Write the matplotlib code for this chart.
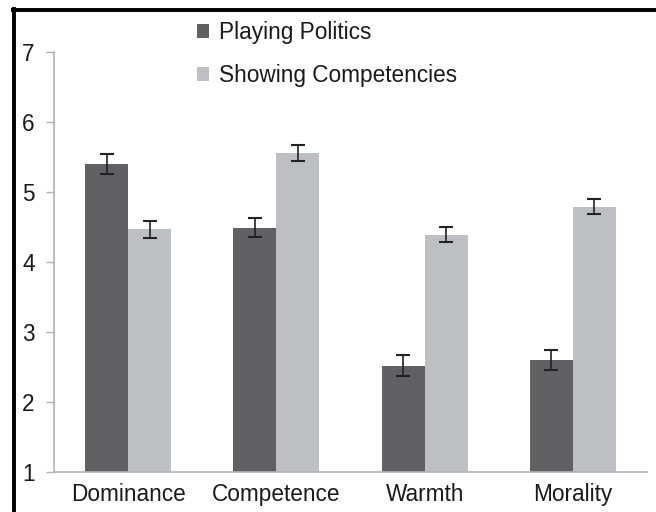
import numpy as np
import matplotlib.pyplot as plt
from matplotlib.lines import Line2D

plt.rcParams['font.family'] = ['Liberation Sans', 'DejaVu Sans']

categories = ['Dominance', 'Competence', 'Warmth', 'Morality']
politics = [5.40, 4.49, 2.52, 2.60]
politics_err = [0.14, 0.14, 0.15, 0.14]
competencies = [4.47, 5.56, 4.39, 4.79]
competencies_err = [0.12, 0.11, 0.11, 0.11]
series_names = ['Playing Politics', 'Showing Competencies']
yticks = [1, 2, 3, 4, 5, 6, 7]

DARK = '#616163'
LIGHT = '#bebfc3'
TEXT = '#1a1a1a'
AXIS = '#b3b3b3'
FS = 16.3


def main():
    fig = plt.figure(figsize=(6.56, 5.12), dpi=100)
    ax = fig.add_axes([54 / 656, 40 / 512, 593 / 656, 420 / 512])

    x = np.arange(len(categories))
    w = 0.29
    base = 1
    ax.bar(x - w / 2, np.array(politics) - base, w, bottom=base, color=DARK,
           label=series_names[0])
    ax.bar(x + w / 2, np.array(competencies) - base, w, bottom=base, color=LIGHT,
           label=series_names[1])
    ax.errorbar(x - w / 2, politics, yerr=politics_err, fmt='none',
                ecolor='#222222', elinewidth=1.2, capsize=5, capthick=1.5)
    ax.errorbar(x + w / 2, competencies, yerr=competencies_err, fmt='none',
                ecolor='#222222', elinewidth=1.2, capsize=5, capthick=1.5)

    ax.set_xlim(-0.5, len(categories) - 0.5)
    ax.set_ylim(1, 7)
    ax.set_yticks(yticks)
    ax.set_xticks(x)
    ax.set_xticklabels(categories)

    for side in ['top', 'right']:
        ax.spines[side].set_visible(False)
    for side in ['left', 'bottom']:
        ax.spines[side].set_color(AXIS)
        ax.spines[side].set_linewidth(1.2)
    ax.tick_params(axis='y', length=6, width=1, color=AXIS, pad=8,
                   labelsize=FS, labelcolor=TEXT)
    ax.tick_params(axis='x', length=0, pad=8, labelsize=FS, labelcolor=TEXT)

    fig.legend(loc='upper left', bbox_to_anchor=(197 / 656, 1 - 21 / 512),
               frameon=False, borderpad=0, borderaxespad=0,
               handlelength=0.55, handleheight=0.55, handletextpad=0.4,
               labelspacing=0.88, fontsize=FS, labelcolor=TEXT)

    # black frame on top and left edge
    fig.add_artist(Line2D([12.5 / 656, 1], [1 - 9.5 / 512, 1 - 9.5 / 512],
                          transform=fig.transFigure, color='black', lw=2.8))
    fig.add_artist(Line2D([13.5 / 656, 13.5 / 656], [0, 1 - 8.5 / 512],
                          transform=fig.transFigure, color='black', lw=2.8))

    fig.savefig('out.png', dpi=100)


if __name__ == "__main__":
    main()
